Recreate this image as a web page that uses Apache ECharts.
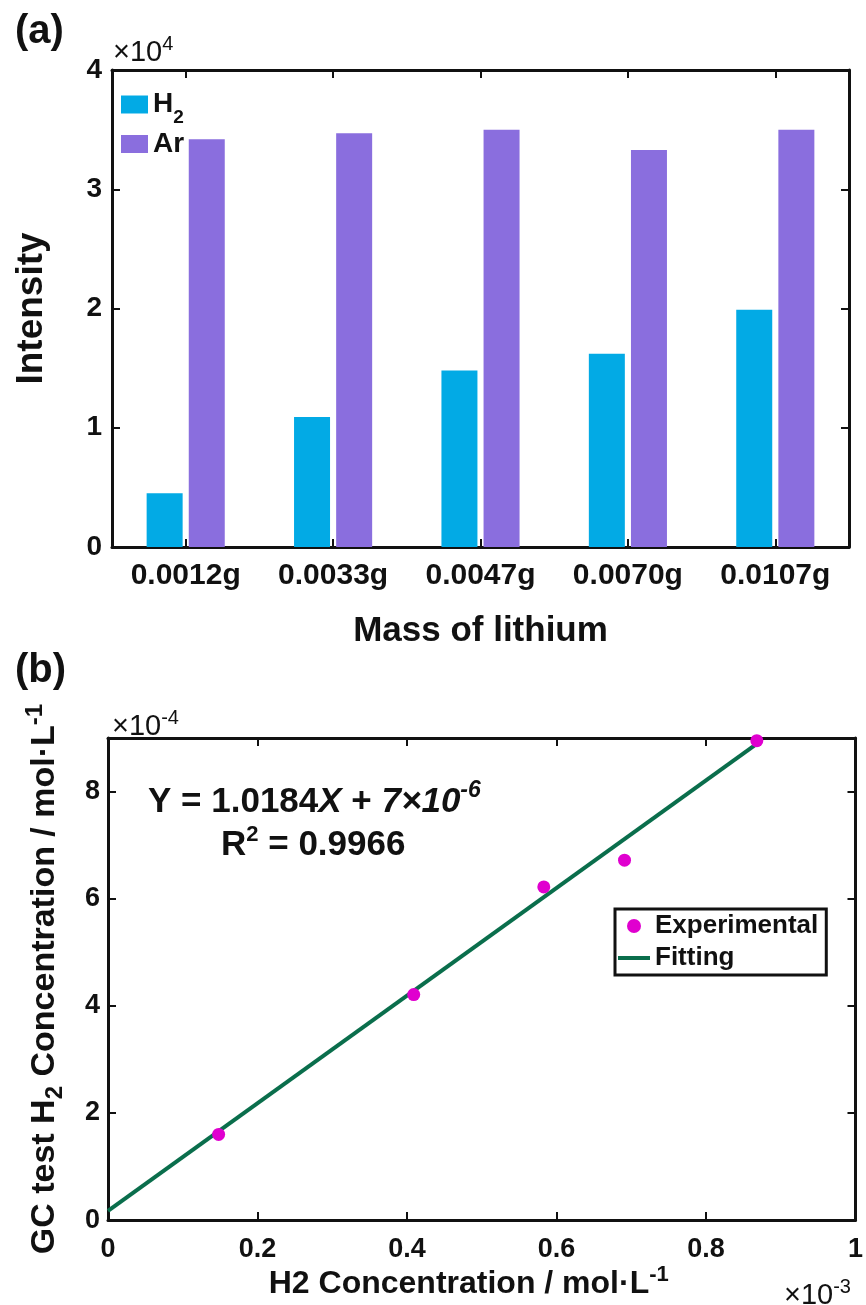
<!DOCTYPE html>
<html><head><meta charset="utf-8">
<script src="https://cdn.jsdelivr.net/npm/echarts@6/dist/echarts.min.js"></script>
<style>html,body{margin:0;padding:0;background:#fff}#c{width:866px;height:1305px}</style>
</head><body><div id="c"></div>
<script>
// ---- Panel (a) data ----
const massCategories = ['0.0012g', '0.0033g', '0.0047g', '0.0070g', '0.0107g'];
const h2Intensity = [4500, 10900, 14800, 16200, 19900];
const arIntensity = [34200, 34700, 35000, 33300, 35000];
const intensityTickLabels = ['0', '1', '2', '3', '4']; // x10^4

// ---- Panel (b) data (x in 1e-3 mol/L, y in 1e-4 mol/L) ----
const expX = [0.148, 0.409, 0.583, 0.691, 0.868];
const expY = [1.60, 4.21, 6.22, 6.72, 8.95];
const fitX = [0, 0.866];
const fitY = [0.17, 8.87];

const F = "'Liberation Sans', Arial, sans-serif";
const INK = '#111';
const frameLine = { show: true, onZero: false, lineStyle: { color: INK, width: 3 } };
const tickIn = { show: true, inside: true, length: 8, lineStyle: { color: INK, width: 2 } };

const chart = echarts.init(document.getElementById('c'), null, { renderer: 'canvas' });

const option = {
  animation: false,
  backgroundColor: '#fff',
  textStyle: { fontFamily: F },
  grid: [
    { left: 112, right: 17, top: 70, height: 477 },
    { left: 108, right: 7, top: 738, height: 484 }
  ],
  xAxis: [
    {
      gridIndex: 0, type: 'category', data: massCategories, position: 'bottom',
      axisLine: frameLine, axisTick: Object.assign({ alignWithLabel: true }, tickIn),
      axisLabel: { fontSize: 30, fontWeight: 'bold', color: INK, margin: 14, fontFamily: F },
      name: 'Mass of lithium', nameLocation: 'middle', nameGap: 67,
      nameTextStyle: { fontSize: 35, fontWeight: 'bold', color: INK, lineHeight: 35, fontFamily: F }
    },
    {
      gridIndex: 0, type: 'category', data: massCategories, position: 'top',
      axisLine: frameLine, axisTick: Object.assign({ alignWithLabel: true }, tickIn),
      axisLabel: { show: false }
    },
    {
      gridIndex: 1, type: 'value', min: 0, max: 1, interval: 0.2, position: 'bottom',
      axisLine: frameLine, axisTick: tickIn, splitLine: { show: false },
      axisLabel: { fontSize: 27, fontWeight: 'bold', color: INK, margin: 16, fontFamily: F },
      name: 'H2 Concentration / mol·L{sup|-1}', nameLocation: 'middle', nameGap: 41,
      nameTextStyle: {
        fontSize: 32, fontWeight: 'bold', color: INK, lineHeight: 34, fontFamily: F, padding: [0, 26, 0, 0],
        rich: { sup: { fontSize: 22, fontWeight: 'bold', color: INK, lineHeight: 22, padding: [0, 0, 18, 0], fontFamily: F } }
      }
    },
    {
      gridIndex: 1, type: 'value', min: 0, max: 1, interval: 0.2, position: 'top',
      axisLine: frameLine, axisTick: tickIn, splitLine: { show: false }, axisLabel: { show: false }
    }
  ],
  yAxis: [
    {
      gridIndex: 0, type: 'value', min: 0, max: 40000, interval: 10000, position: 'left',
      axisLine: frameLine, axisTick: tickIn, splitLine: { show: false },
      axisLabel: { fontSize: 28, fontWeight: 'bold', color: INK, margin: 10, fontFamily: F,
        formatter: v => intensityTickLabels[Math.round(v / 10000)] },
      name: 'Intensity', nameLocation: 'middle', nameGap: 62,
      nameTextStyle: { fontSize: 37, fontWeight: 'bold', color: INK, lineHeight: 37, fontFamily: F }
    },
    {
      gridIndex: 0, type: 'value', min: 0, max: 40000, interval: 10000, position: 'right',
      axisLine: frameLine, axisTick: tickIn, splitLine: { show: false }, axisLabel: { show: false }
    },
    {
      gridIndex: 1, type: 'value', min: 0, max: 9, interval: 2, position: 'left',
      axisLine: frameLine, axisTick: tickIn, splitLine: { show: false },
      axisLabel: { fontSize: 27, fontWeight: 'bold', color: INK, margin: 8, fontFamily: F, showMaxLabel: false },
      name: 'GC test H{sub|2} Concentration / mol·L{sup|-1}', nameLocation: 'middle', nameGap: 45,
      nameTextStyle: {
        fontSize: 34, fontWeight: 'bold', color: INK, lineHeight: 36, fontFamily: F,
        rich: {
          sub: { fontSize: 24, fontWeight: 'bold', color: INK, lineHeight: 24, padding: [20, 0, 0, 0], fontFamily: F },
          sup: { fontSize: 24, fontWeight: 'bold', color: INK, lineHeight: 24, padding: [0, 0, 20, 0], fontFamily: F }
        }
      }
    },
    {
      gridIndex: 1, type: 'value', min: 0, max: 9, interval: 2, position: 'right',
      axisLine: frameLine, axisTick: tickIn, splitLine: { show: false }, axisLabel: { show: false }
    }
  ],
  legend: [
    {
      data: ['H2', 'Ar'], orient: 'vertical', left: 121, top: 82, icon: 'rect',
      itemWidth: 27, itemHeight: 18, itemGap: 2, itemTextGap: 3, padding: 0,
      formatter: n => n === 'H2' ? 'H{sub|2}' : n,
      textStyle: {
        fontSize: 28, fontWeight: 'bold', color: INK, lineHeight: 30, fontFamily: F,
        rich: { sub: { fontSize: 19, fontWeight: 'bold', color: INK, lineHeight: 19, padding: [26, 0, 0, 0], fontFamily: F } }
      }
    },
    {
      data: [
        { name: 'Experimental', icon: 'circle' },
        { name: 'Fitting', icon: 'path://M0,0H32V4H0Z' }
      ],
      orient: 'vertical', left: 615, top: 909, symbolKeepAspect: true,
      itemWidth: 32, itemHeight: 14, itemGap: 4, itemTextGap: 4, padding: [3, 8, 3, 3],
      borderColor: INK, borderWidth: 3, backgroundColor: '#fff',
      textStyle: { fontSize: 26, fontWeight: 'bold', color: INK, lineHeight: 28, fontFamily: F }
    }
  ],
  series: [
    { type: 'bar', name: 'H2', xAxisIndex: 0, yAxisIndex: 0, data: h2Intensity,
      barWidth: 36, barGap: '17%', itemStyle: { color: '#02AAE5' } },
    { type: 'bar', name: 'Ar', xAxisIndex: 0, yAxisIndex: 0, data: arIntensity,
      barWidth: 36, barGap: '17%', itemStyle: { color: '#8A6EDE' } },
    { type: 'line', name: 'Fitting', xAxisIndex: 2, yAxisIndex: 2,
      data: fitX.map((x, i) => [x, fitY[i]]), symbol: 'none',
      lineStyle: { color: '#0A6E4C', width: 4 }, itemStyle: { color: '#0A6E4C' }, z: 2 },
    { type: 'scatter', name: 'Experimental', xAxisIndex: 2, yAxisIndex: 2,
      data: expX.map((x, i) => [x, expY[i]]), symbolSize: 13,
      itemStyle: { color: '#E000CF', opacity: 1 }, z: 3 }
  ],
  graphic: [
    { type: 'text', left: 15, top: 12, style: { text: '(a)', fontSize: 40, fontWeight: 'bold', fill: INK, fontFamily: F } },
    { type: 'text', left: 15, top: 651, style: { text: '(b)', fontSize: 40, fontWeight: 'bold', fill: INK, fontFamily: F } },
    { type: 'text', x: 113, y: 53, style: { text: '{n|×10}{s|4}', verticalAlign: 'middle', fontFamily: F,
        rich: { n: { fontSize: 29, fill: INK, fontFamily: F }, s: { fontSize: 20, fill: INK, padding: [0, 0, 18, 0], fontFamily: F } } } },
    { type: 'text', x: 112, y: 727, style: { text: '{n|×10}{s|-4}', verticalAlign: 'middle', fontFamily: F,
        rich: { n: { fontSize: 29, fill: INK, fontFamily: F }, s: { fontSize: 20, fill: INK, padding: [0, 0, 18, 0], fontFamily: F } } } },
    { type: 'text', x: 784, y: 1296, style: { text: '{n|×10}{s|-3}', verticalAlign: 'middle', fontFamily: F,
        rich: { n: { fontSize: 29, fill: INK, fontFamily: F }, s: { fontSize: 20, fill: INK, padding: [0, 0, 18, 0], fontFamily: F } } } },
    { type: 'text', x: 148, y: 802, z: 10, style: {
        text: '{t|Y = 1.0184}{i|X}{t| + }{i|7×10}{s|-6}', verticalAlign: 'middle', fontFamily: F,
        rich: {
          t: { fontSize: 35, fontWeight: 'bold', fill: INK, fontFamily: F },
          i: { fontSize: 35, fontWeight: 'bold', fontStyle: 'italic', fill: INK, fontFamily: F },
          s: { fontSize: 23, fontWeight: 'bold', fontStyle: 'italic', fill: INK, padding: [0, 0, 22, 0], fontFamily: F }
        } } },
    { type: 'text', x: 221, y: 845, z: 10, style: {
        text: '{t|R}{s|2}{t| = 0.9966}', verticalAlign: 'middle', fontFamily: F,
        rich: {
          t: { fontSize: 35, fontWeight: 'bold', fill: INK, fontFamily: F },
          s: { fontSize: 22, fontWeight: 'bold', fill: INK, padding: [0, 0, 20, 0], fontFamily: F }
        } } }
  ]
};
chart.setOption(option);
</script>
</body></html>
